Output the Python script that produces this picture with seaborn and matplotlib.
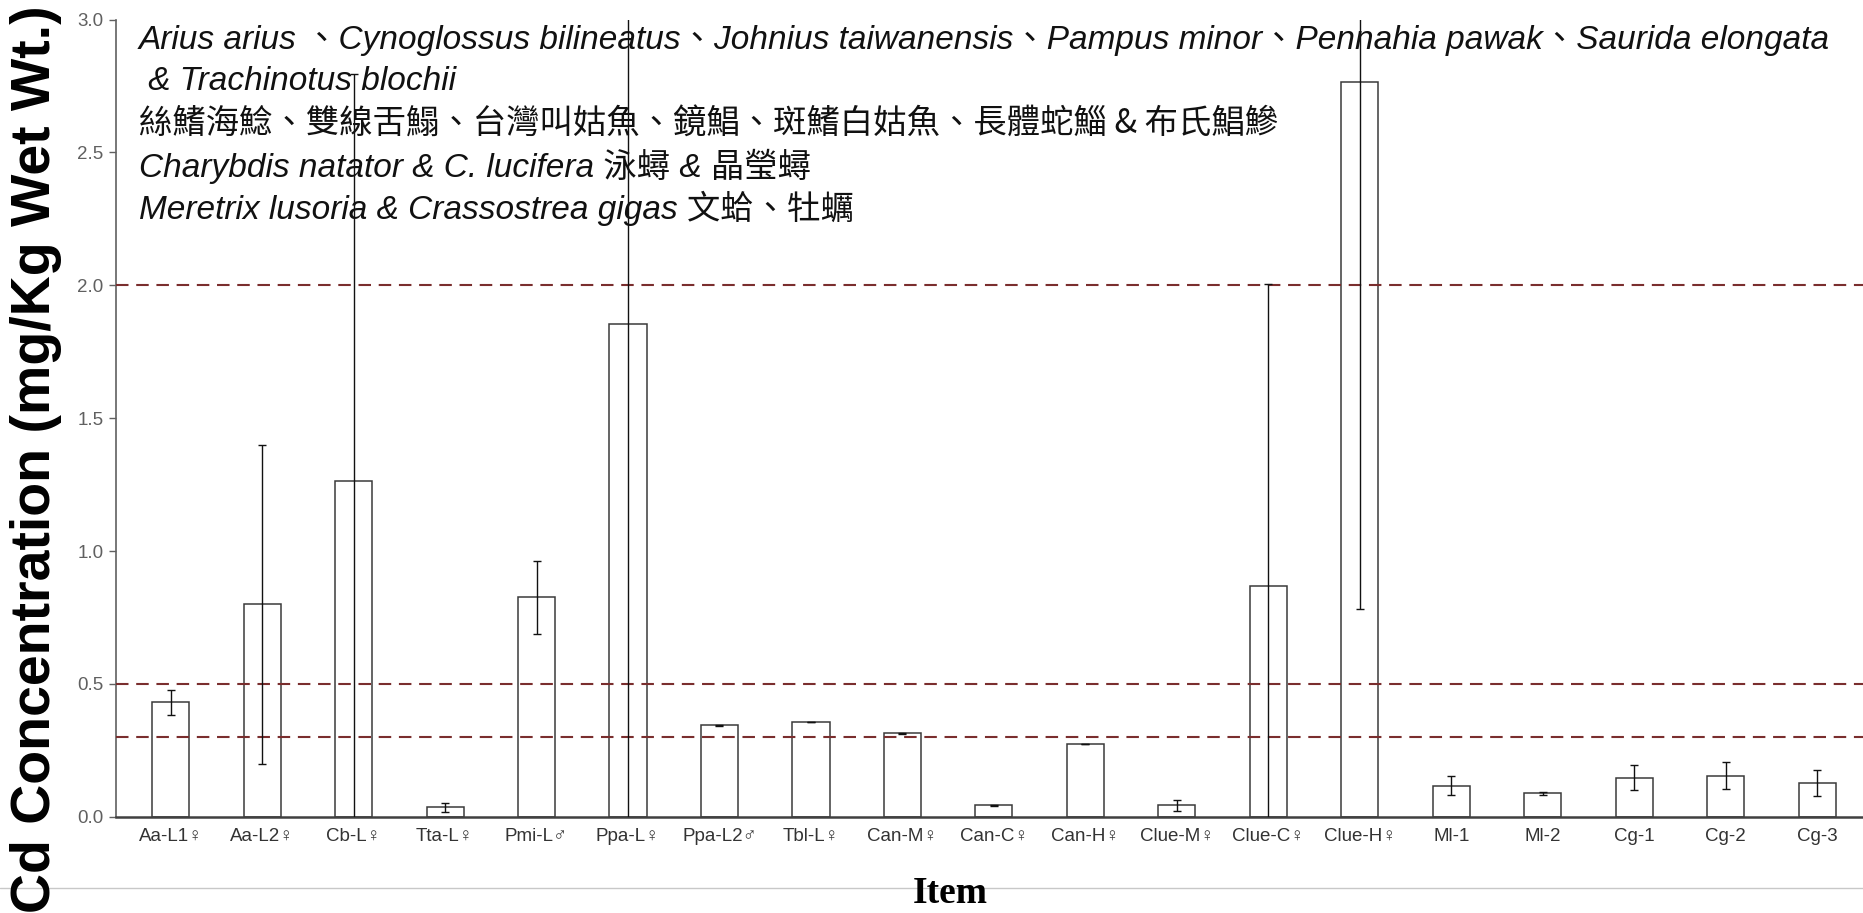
import numpy as np
import pandas as pd
import matplotlib
matplotlib.use("Agg")
import matplotlib.pyplot as plt
from matplotlib.lines import Line2D
import seaborn as sns

# ---------------- data ----------------
items = ["Aa-L1♀", "Aa-L2♀", "Cb-L♀", "Tta-L♀", "Pmi-L♂", "Ppa-L♀", "Ppa-L2♂",
         "Tbl-L♀", "Can-M♀", "Can-C♀", "Can-H♀", "Clue-M♀", "Clue-C♀", "Clue-H♀",
         "Ml-1", "Ml-2", "Cg-1", "Cg-2", "Cg-3"]
cd_mean = [0.430, 0.800, 1.262, 0.035, 0.826, 1.855, 0.344,
           0.356, 0.314, 0.043, 0.275, 0.043, 0.868, 2.767,
           0.117, 0.088, 0.146, 0.154, 0.126]
cd_err = [0.047, 0.600, 1.533, 0.016, 0.138, 1.900, 0.002,
          0.000, 0.002, 0.002, 0.000, 0.021, 1.137, 1.987,
          0.037, 0.005, 0.047, 0.051, 0.048]
limits = [2.0, 0.5, 0.3]
yticks = [0.0, 0.5, 1.0, 1.5, 2.0, 2.5, 3.0]

notes = [
    "Arius arius 、Cynoglossus bilineatus、Johnius taiwanensis、Pampus minor、Pennahia pawak、Saurida elongata",
    " & Trachinotus blochii",
    "絲鰭海鯰、雙線舌鰨、台灣叫姑魚、鏡鯧、斑鰭白姑魚、長體蛇鯔 & 布氏鯧鰺",
    "Charybdis natator & C. lucifera 泳蟳 & 晶瑩蟳",
    "Meretrix lusoria & Crassostrea gigas 文蛤、牡蠣",
]
ylabel = "Cd Concentration (mg/Kg Wet Wt.)"
xlabel = "Item"

df = pd.DataFrame({"item": items, "cd": cd_mean})

# ---------------- style ----------------
sns.set_style("white")
plt.rcParams["font.family"] = ["Liberation Sans", "DejaVu Sans", "Noto Sans CJK TC"]
narrow = ["Liberation Sans Narrow", "Liberation Sans", "DejaVu Sans"]
latin_cjk = ["Liberation Sans", "Noto Sans CJK TC", "DejaVu Sans"]

W, H = 1863, 913
fig = plt.figure(figsize=(W / 100, H / 100), dpi=100)
ax = fig.add_axes([116 / W, (H - 816.7) / H, (W - 116) / W, (816.7 - 19.6) / H])

sns.barplot(data=df, x="item", y="cd", order=items, width=0.405, color="white",
            saturation=1, edgecolor="#3a3a3a", linewidth=1.1, errorbar=None,
            ax=ax, zorder=2)

for lv in limits:
    ax.axhline(lv, color="#7a2e2e", lw=1.5, dashes=(6, 3.7), zorder=3)

ax.errorbar(np.arange(len(items)), cd_mean, yerr=cd_err, fmt="none",
            ecolor="#111111", elinewidth=1.0, capsize=2.6, capthick=1.0, zorder=4)

ax.set_xlim(-0.597, 18.5)
ax.set_ylim(0, 3.0)
ax.set_yticks(yticks)
ax.set_yticklabels([f"{v:.1f}" for v in yticks], family=narrow, fontsize=13.5,
                   color="#606060")
ax.set_xticks(range(len(items)))
ax.set_xticklabels(items, family=narrow, fontsize=13.5, color="#333333")
ax.tick_params(axis="y", direction="out", length=5, width=1, color="#606060", pad=4, left=True)
ax.tick_params(axis="x", length=0, pad=8)
ax.set_xlabel("")
ax.set_ylabel("")

for s in ["top", "right"]:
    ax.spines[s].set_visible(False)
ax.spines["left"].set_color("#606060")
ax.spines["left"].set_linewidth(1.2)
ax.spines["bottom"].set_color("#404040")
ax.spines["bottom"].set_linewidth(1.8)

# annotation lines
ys = [40, 82, 123, 166, 208]
for i, (t, yy) in enumerate(zip(notes, ys)):
    if i == 2:
        fig.text(139 / W, 1 - yy / H, t, family=["Noto Sans CJK TC", "DejaVu Sans"],
                 fontsize=24, va="center", ha="left", color="#111111")
    else:
        fig.text(139 / W, 1 - yy / H, t, family=latin_cjk, style="italic",
                 fontsize=24, va="center", ha="left", color="#111111")

# axis titles
fig.text(36 / W, 1 - 459 / H, ylabel, rotation=90, family=["Liberation Sans", "DejaVu Sans"],
         fontweight="bold", fontsize=40, va="center", ha="center", color="black")
fig.add_artist(Line2D([0, 1], [1 - 888 / H, 1 - 888 / H], transform=fig.transFigure,
                      color="#c8c8c8", lw=1, zorder=0))
fig.text(950 / W, 1 - 893 / H, xlabel, family=["Liberation Serif", "DejaVu Serif"],
         fontweight="bold", fontsize=27, va="center", ha="center", color="black", zorder=5)

fig.savefig("out.png", dpi=100, facecolor="white")
